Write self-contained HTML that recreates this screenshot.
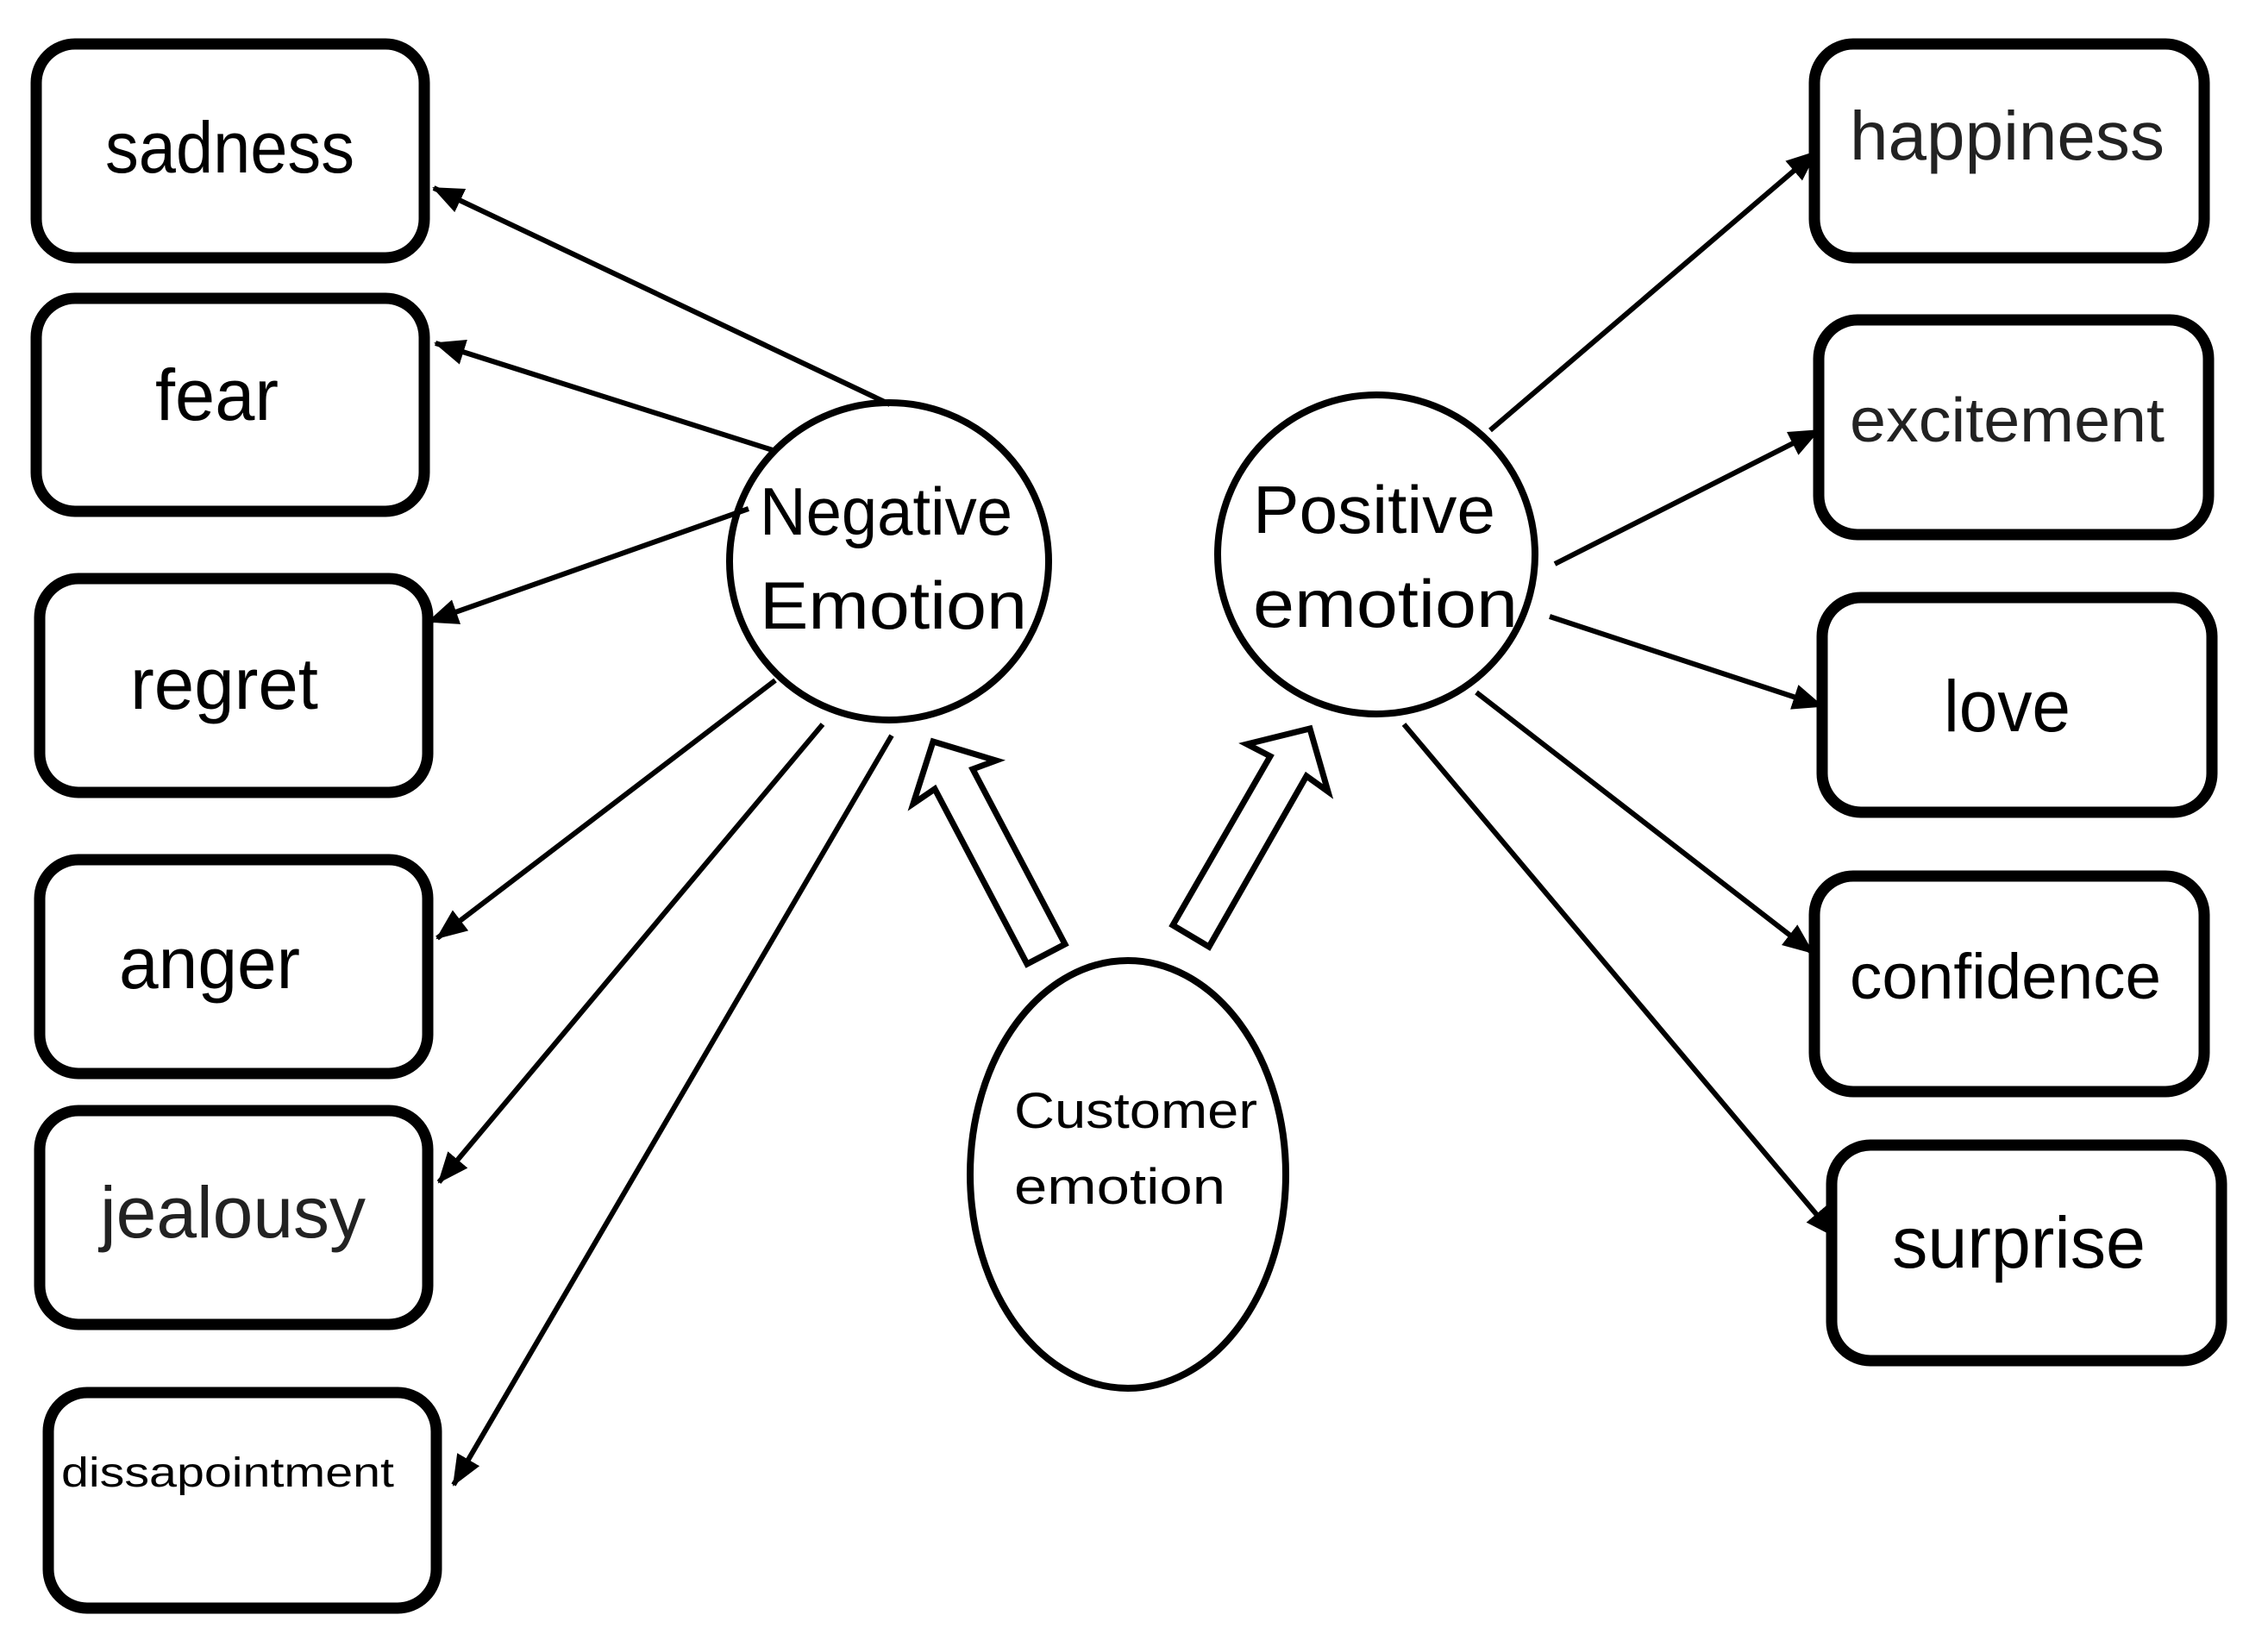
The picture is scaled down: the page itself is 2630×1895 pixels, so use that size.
<!DOCTYPE html>
<html><head><meta charset="utf-8"><style>html,body{margin:0;padding:0;background:#fff}svg{display:block}</style></head>
<body>
<svg width="2630" height="1895" viewBox="0 0 2630 1895" xmlns="http://www.w3.org/2000/svg">
<defs>
<marker id="a" markerUnits="userSpaceOnUse" markerWidth="36" markerHeight="30" refX="34" refY="15" orient="auto">
<path d="M0,0 L36,15 L0,30 Z" fill="#000"/>
</marker>
</defs>
<g fill="#fff" stroke="#000" stroke-width="13">
<rect x="42" y="51" width="450" height="248" rx="45"/>
<rect x="42" y="346" width="450" height="247" rx="45"/>
<rect x="46" y="671" width="450" height="248" rx="45"/>
<rect x="46" y="997" width="450" height="248" rx="45"/>
<rect x="46" y="1288" width="450" height="248" rx="45"/>
<rect x="56" y="1615" width="450" height="250" rx="45"/>
<rect x="2104" y="51" width="452" height="248" rx="45"/>
<rect x="2109" y="371" width="452" height="249" rx="45"/>
<rect x="2113" y="693" width="452" height="249" rx="45"/>
<rect x="2104" y="1016" width="452" height="250" rx="45"/>
<rect x="2124" y="1328" width="452" height="250" rx="45"/>
</g>
<g fill="#fff" stroke="#000" stroke-width="8">
<ellipse cx="1031" cy="651" rx="185" ry="184"/>
<ellipse cx="1596" cy="643" rx="184" ry="185"/>
<ellipse cx="1308" cy="1362" rx="183" ry="248"/>
</g>
<g stroke="#000" stroke-width="6" marker-end="url(#a)">
<line x1="1032" y1="469" x2="503" y2="218"/>
<line x1="899" y1="523" x2="505" y2="398"/>
<line x1="868" y1="590" x2="497" y2="721"/>
<line x1="899" y1="789" x2="507" y2="1088"/>
<line x1="954" y1="840" x2="509" y2="1371"/>
<line x1="1034" y1="853" x2="526" y2="1722"/>
<line x1="1728" y1="499" x2="2106" y2="176"/>
<line x1="1803" y1="654" x2="2109" y2="499"/>
<line x1="1797" y1="715" x2="2113" y2="819"/>
<line x1="1712" y1="803" x2="2102" y2="1105"/>
<line x1="1628" y1="840" x2="2128" y2="1434"/>
</g>
<g fill="#fff" stroke="#000" stroke-width="7" stroke-linejoin="miter">
<polygon points="1082,860 1155,882 1128,892 1235,1095 1191,1118 1084,915 1059,932"/>
<polygon points="1519,845 1540,918 1515,900 1402,1098 1360,1073 1473,877 1446,863"/>
</g>
<g font-family="Liberation Sans, sans-serif" fill="#000">
<text x="122" y="200" font-size="84" textLength="289" lengthAdjust="spacingAndGlyphs">sadness</text>
<text x="180" y="487" font-size="84" textLength="143" lengthAdjust="spacingAndGlyphs">fear</text>
<text x="151" y="822" font-size="84" textLength="218" lengthAdjust="spacingAndGlyphs">regret</text>
<text x="138" y="1146" font-size="84" textLength="210" lengthAdjust="spacingAndGlyphs">anger</text>
<text x="116" y="1435" font-size="84" textLength="308" lengthAdjust="spacingAndGlyphs" fill="#222">jealousy</text>
<text x="71" y="1724" font-size="48" textLength="386" lengthAdjust="spacingAndGlyphs">dissapointment</text>
<text x="881" y="620" font-size="78" textLength="293" lengthAdjust="spacingAndGlyphs">Negative</text>
<text x="881" y="729" font-size="78" textLength="310" lengthAdjust="spacingAndGlyphs">Emotion</text>
<text x="1453" y="618" font-size="78" textLength="281" lengthAdjust="spacingAndGlyphs">Positive</text>
<text x="1453" y="727" font-size="78" textLength="307" lengthAdjust="spacingAndGlyphs">emotion</text>
<text x="1176" y="1308" font-size="58" textLength="282" lengthAdjust="spacingAndGlyphs">Customer</text>
<text x="1176" y="1396" font-size="58" textLength="245" lengthAdjust="spacingAndGlyphs">emotion</text>
<text x="2145" y="185" font-size="80" textLength="365" lengthAdjust="spacingAndGlyphs" fill="#222">happiness</text>
<text x="2145" y="512" font-size="72" textLength="365" lengthAdjust="spacingAndGlyphs" fill="#222">excitement</text>
<text x="2254" y="848" font-size="84" textLength="147" lengthAdjust="spacingAndGlyphs">love</text>
<text x="2145" y="1158" font-size="74" textLength="361" lengthAdjust="spacingAndGlyphs">confidence</text>
<text x="2194" y="1470" font-size="84" textLength="294" lengthAdjust="spacingAndGlyphs">surprise</text>
</g>
</svg>
</body></html>
